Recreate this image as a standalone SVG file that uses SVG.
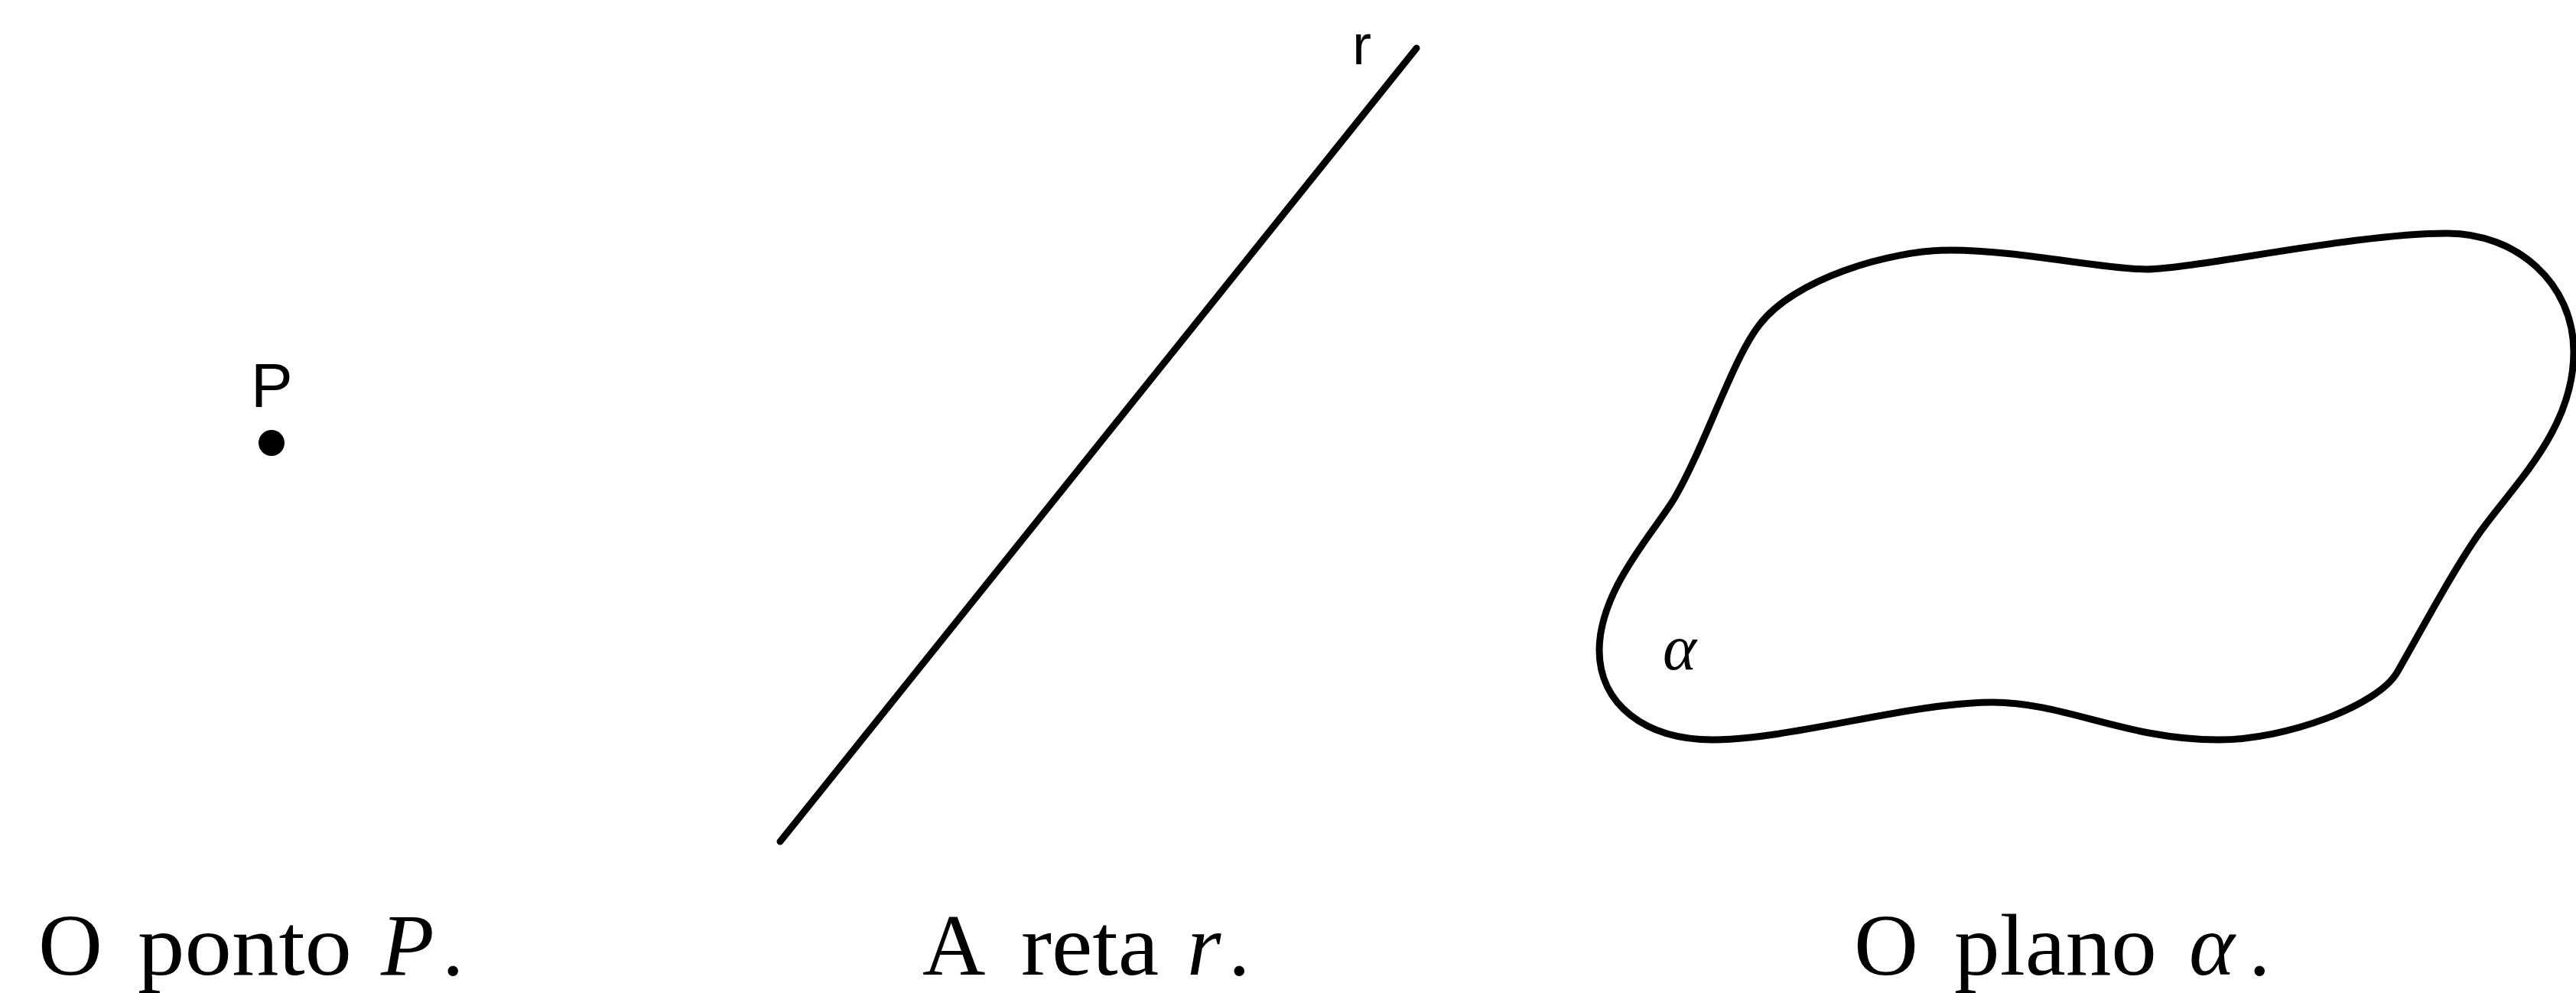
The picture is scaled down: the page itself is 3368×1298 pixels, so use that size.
<svg xmlns="http://www.w3.org/2000/svg" width="3368" height="1298" viewBox="0 0 3368 1298">
<style>
.ink{fill:none;stroke:#000;stroke-width:9;stroke-linecap:round;stroke-linejoin:round}
.sans{font-family:"Liberation Sans",Arial,sans-serif;fill:#000}
.cap{font-family:"Liberation Serif","Times New Roman",serif;font-size:114px;fill:#000}
.it{font-style:italic}
</style>
<rect width="3368" height="1298" fill="#fff"/>
<g id="point">
<circle cx="355" cy="579" r="17" fill="#000"/>
<text class="sans" x="328" y="532" font-size="82">P</text>
</g>
<g id="line">
<line class="ink" x1="1020" y1="1100" x2="1852" y2="63"/>
<text class="sans" x="1768" y="84" font-size="75">r</text>
</g>
<g id="plane">
<path class="ink" d="M2550,327 C2640,327 2750,352 2806,352 C2880,350 3080,305 3200,305 C3290,305 3365,370 3365,460 C3365,560 3290,630 3243,695 C3208,744 3164,827 3134,879 C3109,922 2990,967 2900,967 C2780,967 2700,918 2605,918 C2500,918 2340,967 2240,967 C2150,967 2091,920 2091,850 C2091,770 2165,693 2190,650 C2230,581 2265,470 2300,425 C2345,365 2470,327 2550,327 Z"/>
<text x="2174" y="875" font-family="Liberation Serif,'Times New Roman',serif" font-style="italic" font-size="84">α</text>
</g>
<g id="captions">
<text class="cap" y="1274"><tspan x="50" textLength="84" lengthAdjust="spacingAndGlyphs">O</tspan><tspan x="180" textLength="280" lengthAdjust="spacingAndGlyphs">ponto</tspan><tspan x="498" class="it">P</tspan><tspan x="578">.</tspan></text>
<text class="cap" y="1274"><tspan x="1206">A</tspan><tspan x="1335" textLength="180" lengthAdjust="spacingAndGlyphs">reta</tspan><tspan x="1552" class="it">r</tspan><tspan x="1606">.</tspan></text>
<text class="cap" y="1274"><tspan x="2424" textLength="84" lengthAdjust="spacingAndGlyphs">O</tspan><tspan x="2555" textLength="265" lengthAdjust="spacingAndGlyphs">plano</tspan><tspan x="2862" class="it">α</tspan><tspan x="2940">.</tspan></text>
</g>
</svg>
